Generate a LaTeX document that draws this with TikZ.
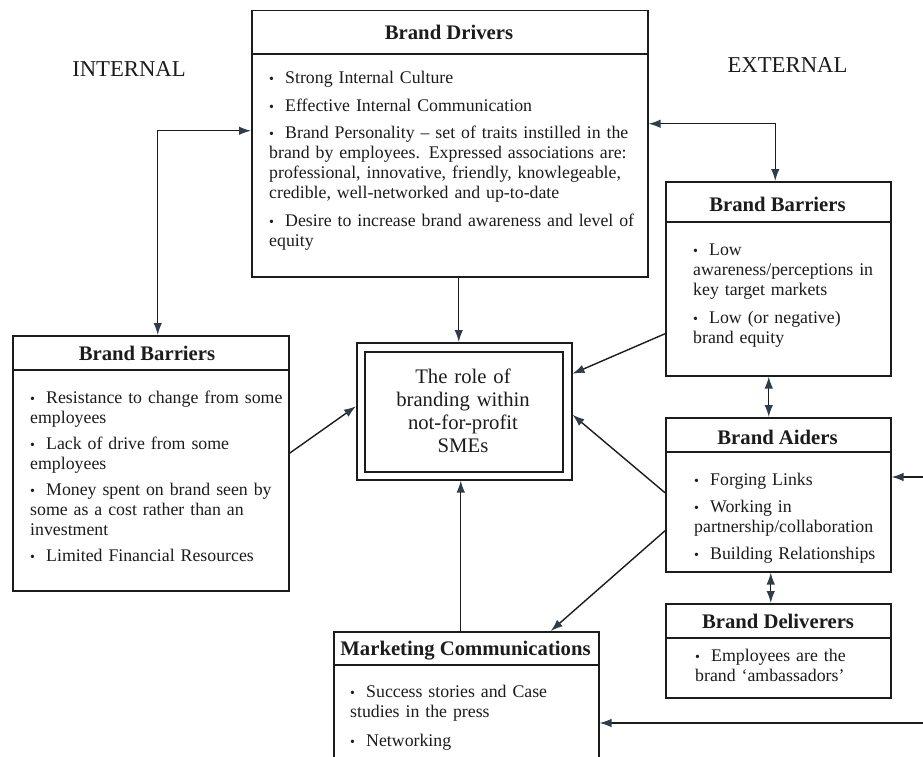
\documentclass[tikz,border=0pt]{standalone}
\usepackage{fontspec}
\setmainfont{Liberation Serif}
\usetikzlibrary{arrows.meta}
\definecolor{ink}{HTML}{1C1C1C}
\definecolor{tipc}{HTML}{2E3D48}
\newcommand{\bu}{\makebox[16pt][l]{\fontsize{14}{14}\selectfont •}}
\begin{document}
\begin{tikzpicture}[x=1pt,y=-1pt,
  box/.style={draw=ink, line width=1.5pt, inner sep=0pt, anchor=north west},
  hdr/.style={draw=ink, line width=1.5pt},
  ttl/.style={font=\fontsize{20.7}{23}\selectfont\bfseries, text=ink, anchor=base, inner sep=0pt},
  body/.style={font=\fontsize{17.8}{20}\selectfont, text=ink, anchor=base west, inner sep=0pt, text width=420pt, align=left},
  side/.style={font=\fontsize{22.7}{26}\selectfont, text=ink, anchor=base, inner sep=0pt},
  conn/.style={draw=ink, line width=1.4pt},
  >={Latex[length=12pt,width=8.5pt,color=tipc]}
]
\clip (0,0) rectangle (923,757);
\fill[white] (0,0) rectangle (923,757);

% side labels
\node[side] (lint) at (129,77) {INTERNAL};
\node[side] (lext) at (787.5,73) {EXTERNAL};

% Brand Drivers
\node[box, minimum width=396pt, minimum height=266pt] (bd) at (251,10) {};
\draw[hdr] (bd.west |- 0,54) -- (bd.east |- 0,54);
\node[ttl] (bdt) at (449,40) {Brand Drivers};
\node[body] (bdb) at (269,84) {\bu Strong Internal Culture\\[7.5pt]
\bu Effective Internal Communication\\[7.5pt]
\bu Brand Personality – set of traits instilled in the\\
brand by employees. Expressed associations are:\\
professional, innovative, friendly, knowlegeable,\\
credible, well-networked and up-to-date\\[7.5pt]
\bu Desire to increase brand awareness and level of\\
equity};

% Left Brand Barriers
\node[box, minimum width=276pt, minimum height=255pt] (lbb) at (12,335) {};
\draw[hdr] (lbb.west |- 0,370) -- (lbb.east |- 0,370);
\node[ttl] (lbbt) at (147,360) {Brand Barriers};
\node[body] (lbbb) at (30,403) {\bu Resistance to change from some\\
employees\\[6pt]
\bu Lack of drive from some\\
employees\\[6pt]
\bu Money spent on brand seen by\\
some as a cost rather than an\\
investment\\[6pt]
\bu Limited Financial Resources};

% Right Brand Barriers
\node[box, minimum width=225pt, minimum height=194pt] (rbb) at (665,181) {};
\draw[hdr] (rbb.west |- 0,222) -- (rbb.east |- 0,222);
\node[ttl] (rbbt) at (777.5,211) {Brand Barriers};
\node[body] (rbbb) at (693,255) {\bu Low\\
awareness/perceptions in\\
key target markets\\[8pt]
\bu Low (or negative)\\
brand equity};

% Brand Aiders
\node[box, minimum width=225pt, minimum height=154pt] (ba) at (665,417) {};
\draw[hdr] (ba.west |- 0,452) -- (ba.east |- 0,452);
\node[ttl] (bat) at (777.5,444) {Brand Aiders};
\node[body] (bab) at (694,485) {\bu Forging Links\\[7pt]
\bu Working in\\
partnership/collaboration\\[7pt]
\bu Building Relationships};

% Brand Deliverers
\node[box, minimum width=225pt, minimum height=94pt] (bdl) at (665,603) {};
\draw[hdr] (bdl.west |- 0,638) -- (bdl.east |- 0,638);
\node[ttl] (bdlt) at (778,628) {Brand Deliverers};
\node[body] (bdlb) at (695,661) {\bu Employees are the\\
brand ‘ambassadors’};

% Marketing Communications
\node[box, minimum width=265pt, minimum height=150pt] (mc) at (333,631) {};
\draw[hdr] (mc.west |- 0,665) -- (mc.east |- 0,665);
\node[ttl] (mct) at (465.5,655) {Marketing Communications};
\node[body] (mcb) at (350,697) {\bu Success stories and Case\\
studies in the press\\[9pt]
\bu Networking};

% Centre
\node[box, minimum width=215pt, minimum height=137pt] (ctr) at (356,342) {};
\node[box, minimum width=198pt, minimum height=120pt] (ctri) at (364,351) {};
\node[font=\fontsize{20.7}{23}\selectfont, text=ink, anchor=base, inner sep=0pt, text width=200pt, align=center] (ctrt) at (463,383)
  {The role of\\ branding within\\ not-for-profit\\ SMEs};

% connectors
\coordinate (e1) at (923,477);
\coordinate (e2) at (923,723);
\draw[conn,<->] ([yshift=13pt]bd.west) -| ([xshift=7pt]lbb.north);
\draw[conn,<->] ([yshift=20pt]bd.east) -| ([xshift=-3pt]rbb.north);
\draw[conn,->] ([xshift=9pt]bd.south) -- ([xshift=9pt]bd.south |- ctr.north);
\draw[conn,->] ([yshift=10pt]lbb.east) -- ([yshift=5pt]ctr.west);
\draw[conn,->] ([yshift=-55pt]rbb.west) -- ([yshift=37.5pt]ctr.east);
\draw[conn,->] ([yshift=2pt]ba.west) -- ([yshift=-3.5pt]ctr.east);
\draw[conn,->] ([yshift=-36pt]ba.west) -- ([xshift=84.5pt]mc.north);
\draw[conn,->] ([xshift=-5.5pt]mc.north) -- ([xshift=-5.5pt]mc.north |- ctr.south);
\draw[conn,<->] ([xshift=-9.5pt]rbb.south) -- ([xshift=-9.5pt]rbb.south |- ba.north);
\draw[conn,<->] ([xshift=-7.5pt]ba.south) -- ([xshift=-7.5pt]ba.south |- bdl.north);
\draw[conn,->] (e1) -- (e1 -| ba.east);
\draw[conn,->] (e2) -- (e2 -| mc.east);
\end{tikzpicture}
\end{document}
